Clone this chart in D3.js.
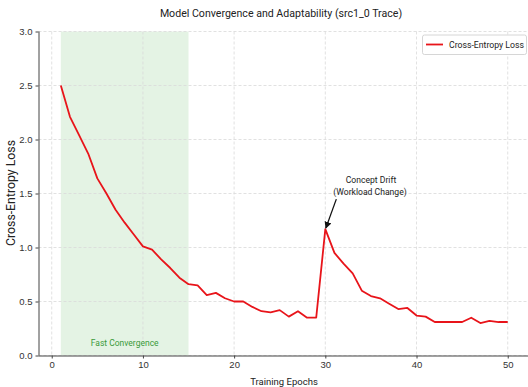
<!DOCTYPE html>
<html>
<head>
<meta charset="utf-8">
<script src="https://cdn.jsdelivr.net/npm/d3@7"></script>
<style>
	body { margin: 0; background: #fff; }
	svg { display: block; font-family: Roboto, "Noto Sans", sans-serif; }
	.grid line { stroke: #d9d9d9; stroke-dasharray: 3,2; stroke-width: 0.8; }
	.axis path, .axis line { stroke: #444; }
	.axis text { fill: #333; font-size: 9.5px; }
</style>
</head>
<body>
<svg id="chart" width="528" height="387"></svg>
<script>
// loss per epoch
var epochs = [];
for (var e = 1; e <= 50; e++) epochs.push(e);
var lossValues = [
	2.50, 2.21, 2.04, 1.87, 1.64, 1.50, 1.35, 1.23, 1.12, 1.01,
	0.98, 0.89, 0.81, 0.72, 0.66, 0.65, 0.56, 0.58, 0.53, 0.50,
	0.50, 0.45, 0.41, 0.40, 0.42, 0.36, 0.41, 0.35, 0.35, 1.17,
	0.95, 0.85, 0.76, 0.60, 0.55, 0.53, 0.48, 0.43, 0.44, 0.37,
	0.36, 0.31, 0.31, 0.31, 0.31, 0.35, 0.30, 0.32, 0.31, 0.31
];
var xTicks = [0, 10, 20, 30, 40, 50];
var yTicks = [0.0, 0.5, 1.0, 1.5, 2.0, 2.5, 3.0];
var fastSpan = [1, 15];
var driftEpoch = 30;

var svg = d3.select("#chart");
var plotLeft = 38.5, plotTop = 31.5, plotBottom = 355.5;

var x = d3.scaleLinear().domain([-1.45, 52.45]).range([plotLeft, plotLeft + 53.9 * 9.12]);
var y = d3.scaleLinear().domain([0, 3]).range([plotBottom, plotTop]);

// green "fast convergence" band
svg.append("rect")
	.attr("x", x(fastSpan[0]))
	.attr("y", plotTop)
	.attr("width", x(fastSpan[1]) - x(fastSpan[0]))
	.attr("height", plotBottom - plotTop)
	.attr("fill", "#2ca02c")
	.attr("fill-opacity", 0.13);

// grid
var grid = svg.append("g").attr("class", "grid");
grid.selectAll(".vx").data(xTicks).enter().append("line")
	.attr("x1", function(d) { return x(d); })
	.attr("x2", function(d) { return x(d); })
	.attr("y1", plotTop).attr("y2", plotBottom);
grid.selectAll(".hy").data(yTicks).enter().append("line")
	.attr("x1", plotLeft).attr("x2", 528)
	.attr("y1", function(d) { return y(d); })
	.attr("y2", function(d) { return y(d); });

svg.append("text")
	.attr("x", x(8))
	.attr("y", 345.5)
	.attr("text-anchor", "middle")
	.attr("fill", "#3a9a3a")
	.style("font-size", "8.5px")
	.text("Fast Convergence");

// loss line
var line = d3.line()
	.x(function(d, i) { return x(epochs[i]); })
	.y(function(d) { return y(d); });
svg.append("path")
	.datum(lossValues)
	.attr("d", line)
	.attr("fill", "none")
	.attr("stroke", "#e8141a")
	.attr("stroke-width", 1.8)
	.attr("stroke-linejoin", "round");

// axes
svg.append("g").attr("class", "axis")
	.attr("transform", "translate(0," + plotBottom + ")")
	.call(d3.axisBottom(x).tickValues(xTicks).tickSize(3).tickPadding(3).tickFormat(d3.format("d")))
	.call(function(g) { g.select(".domain").attr("d", "M" + plotLeft + ",0.5H528"); });
svg.append("g").attr("class", "axis")
	.attr("transform", "translate(" + plotLeft + ",0)")
	.call(d3.axisLeft(y).tickValues(yTicks).tickSize(3).tickPadding(3).tickFormat(d3.format(".1f")))
	.call(function(g) { g.select(".domain").attr("d", "M0.5," + plotTop + "V" + plotBottom); });

// annotation arrow
var defs = svg.append("defs");
defs.append("marker")
	.attr("id", "head")
	.attr("viewBox", "0 0 10 10")
	.attr("refX", 9).attr("refY", 5)
	.attr("markerWidth", 7).attr("markerHeight", 7)
	.attr("markerUnits", "userSpaceOnUse")
	.attr("orient", "auto")
	.append("path").attr("d", "M0,0L10,5L0,10z").attr("fill", "#111");

var peak = lossValues[driftEpoch - 1];
svg.append("line")
	.attr("x1", x(driftEpoch) + 11).attr("y1", y(peak) - 30)
	.attr("x2", x(driftEpoch) + 0.5).attr("y2", y(peak) - 1)
	.attr("stroke", "#111").attr("stroke-width", 1.3)
	.attr("marker-end", "url(#head)");
svg.append("text")
	.attr("x", 371).attr("y", 183)
	.attr("text-anchor", "middle").attr("fill", "#222")
	.style("font-size", "8.6px")
	.text("Concept Drift");
svg.append("text")
	.attr("x", 370).attr("y", 195)
	.attr("text-anchor", "middle").attr("fill", "#222")
	.style("font-size", "8.6px")
	.text("(Workload Change)");

// legend
var legend = svg.append("g");
legend.append("rect")
	.attr("x", 422.5).attr("y", 35)
	.attr("width", 104).attr("height", 19.5)
	.attr("rx", 2)
	.attr("fill", "#fff").attr("stroke", "#ccc").attr("stroke-width", 0.8);
legend.append("line")
	.attr("x1", 426).attr("x2", 443)
	.attr("y1", 44.5).attr("y2", 44.5)
	.attr("stroke", "#e8141a").attr("stroke-width", 1.8);
legend.append("text")
	.attr("x", 449).attr("y", 48)
	.attr("fill", "#222")
	.style("font-size", "8.7px")
	.text("Cross-Entropy Loss");

// titles
svg.append("text")
	.attr("x", 281).attr("y", 17)
	.attr("text-anchor", "middle").attr("fill", "#222")
	.style("font-size", "10.6px")
	.text("Model Convergence and Adaptability (src1_0 Trace)");
svg.append("text")
	.attr("x", 284).attr("y", 385)
	.attr("text-anchor", "middle").attr("fill", "#222")
	.style("font-size", "9.5px")
	.text("Training Epochs");
svg.append("text")
	.attr("transform", "translate(15,193) rotate(-90)")
	.attr("text-anchor", "middle").attr("fill", "#222")
	.style("font-size", "12.3px")
	.text("Cross-Entropy Loss");
</script>
</body>
</html>
